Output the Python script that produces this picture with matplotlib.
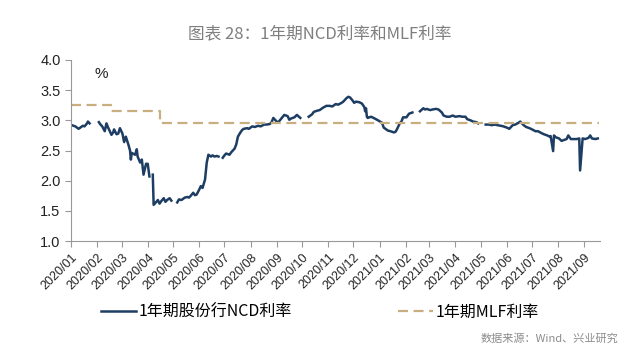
import matplotlib
matplotlib.use("Agg")
import matplotlib.pyplot as plt
import numpy as np
import pandas as pd

plt.rcParams['font.family'] = ['Liberation Sans', 'Noto Sans CJK SC', 'DejaVu Sans']

# 1年期股份行NCD利率 (nan = 节假日断点)
ncd_dates = [
    '2020-01-02', '2020-01-06', '2020-01-08', '2020-01-10', '2020-01-13', '2020-01-15',
    '2020-01-17', '2020-01-20', '2020-01-21', '2020-01-23', '2020-01-28',
    '2020-02-03', '2020-02-05', '2020-02-07', '2020-02-10', '2020-02-12', '2020-02-14',
    '2020-02-18', '2020-02-20', '2020-02-21', '2020-02-24', '2020-02-26', '2020-02-28',
    '2020-03-02', '2020-03-04', '2020-03-06', '2020-03-09', '2020-03-11', '2020-03-12',
    '2020-03-13', '2020-03-17', '2020-03-19', '2020-03-20', '2020-03-23', '2020-03-25',
    '2020-03-26', '2020-03-27', '2020-03-30', '2020-04-01', '2020-04-02', '2020-04-03',
    '2020-04-05',
    '2020-04-07', '2020-04-08', '2020-04-10', '2020-04-13', '2020-04-15', '2020-04-17',
    '2020-04-20', '2020-04-22', '2020-04-24', '2020-04-27', '2020-04-29', '2020-05-02',
    '2020-05-06', '2020-05-08', '2020-05-11', '2020-05-13', '2020-05-15', '2020-05-18',
    '2020-05-20', '2020-05-22', '2020-05-25', '2020-05-27', '2020-05-29', '2020-06-01',
    '2020-06-03', '2020-06-05', '2020-06-08', '2020-06-10', '2020-06-12', '2020-06-15',
    '2020-06-17', '2020-06-19', '2020-06-22', '2020-06-24', '2020-06-26',
    '2020-06-29', '2020-07-01', '2020-07-03', '2020-07-07', '2020-07-09', '2020-07-13',
    '2020-07-15', '2020-07-17', '2020-07-20', '2020-07-22', '2020-07-24', '2020-07-28',
    '2020-07-30', '2020-08-03', '2020-08-06', '2020-08-10', '2020-08-13', '2020-08-17',
    '2020-08-20', '2020-08-24', '2020-08-26', '2020-08-28', '2020-09-01', '2020-09-03',
    '2020-09-07', '2020-09-10', '2020-09-14', '2020-09-16', '2020-09-18', '2020-09-22',
    '2020-09-25', '2020-09-29', '2020-10-04',
    '2020-10-09', '2020-10-13', '2020-10-15', '2020-10-19', '2020-10-22', '2020-10-26',
    '2020-10-30', '2020-11-03', '2020-11-06', '2020-11-10', '2020-11-13', '2020-11-17',
    '2020-11-19', '2020-11-23', '2020-11-25', '2020-11-27', '2020-11-30', '2020-12-02',
    '2020-12-04', '2020-12-08', '2020-12-11', '2020-12-14', '2020-12-15', '2020-12-16',
    '2020-12-17', '2020-12-18', '2020-12-22', '2020-12-25', '2020-12-29',
    '2021-01-04', '2021-01-06', '2021-01-08', '2021-01-11', '2021-01-14', '2021-01-18',
    '2021-01-20', '2021-01-22', '2021-01-25', '2021-01-27', '2021-01-29', '2021-02-02',
    '2021-02-05', '2021-02-09', '2021-02-12',
    '2021-02-18', '2021-02-22', '2021-02-24', '2021-02-26', '2021-03-02', '2021-03-05',
    '2021-03-09', '2021-03-12', '2021-03-16', '2021-03-18', '2021-03-22', '2021-03-25',
    '2021-03-29', '2021-04-01', '2021-04-06', '2021-04-09', '2021-04-13', '2021-04-15',
    '2021-04-19', '2021-04-22', '2021-04-26', '2021-04-28', '2021-05-03',
    '2021-05-07', '2021-05-11', '2021-05-14', '2021-05-18', '2021-05-21', '2021-05-25',
    '2021-05-28', '2021-06-01', '2021-06-04', '2021-06-08', '2021-06-11', '2021-06-15',
    '2021-06-17', '2021-06-21', '2021-06-24', '2021-06-28', '2021-07-01', '2021-07-05',
    '2021-07-08', '2021-07-12', '2021-07-15', '2021-07-19', '2021-07-22', '2021-07-23',
    '2021-07-26', '2021-07-27', '2021-07-29', '2021-08-02', '2021-08-05', '2021-08-09',
    '2021-08-11', '2021-08-13', '2021-08-16', '2021-08-19', '2021-08-23', '2021-08-26',
    '2021-08-27', '2021-08-30', '2021-09-02', '2021-09-06', '2021-09-08', '2021-09-10',
    '2021-09-14', '2021-09-17',
]
ncd_values = [
    2.92, 2.90, 2.88, 2.86, 2.89, 2.91,
    2.90, 2.95, 2.98, 2.95, np.nan,
    2.97, 2.93, 2.90, 2.82, 2.95, 2.88,
    2.76, 2.80, 2.85, 2.77, 2.78, 2.87,
    2.78, 2.64, 2.73, 2.60, 2.50, 2.35,
    2.46, 2.43, 2.52, 2.40, 2.30, 2.35,
    2.22, 2.10, 2.28, 2.28, 2.18, 2.07,
    np.nan,
    2.10, 1.60, 1.63, 1.68, 1.62, 1.66,
    1.71, 1.65, 1.68, 1.71, 1.67, np.nan,
    1.64, 1.69, 1.68, 1.70, 1.72, 1.73,
    1.72, 1.75, 1.80, 1.76, 1.77, 1.85,
    1.91, 1.88, 2.02, 2.30, 2.43, 2.40,
    2.42, 2.40, 2.41, 2.40, np.nan,
    2.38, 2.42, 2.45, 2.43, 2.47, 2.53,
    2.60, 2.73, 2.80, 2.84, 2.86, 2.87,
    2.86, 2.90, 2.89, 2.91, 2.90, 2.93,
    2.93, 2.94, 2.97, 3.04, 2.98, 2.97,
    3.04, 3.09, 3.07, 3.01, 3.03, 3.05,
    3.09, 3.04, np.nan,
    3.06, 3.10, 3.14, 3.16, 3.17, 3.21,
    3.24, 3.24, 3.23, 3.27, 3.26, 3.29,
    3.31, 3.37, 3.39, 3.38, 3.33, 3.29,
    3.31, 3.30, 3.28, 3.22, 3.15, 3.20,
    3.06, 3.04, 3.06, 3.04, 3.01,
    2.96, 2.88, 2.86, 2.83, 2.82, 2.80,
    2.81, 2.86, 2.95, 2.98, 3.05, 3.05,
    3.11, 3.13, np.nan,
    3.15, 3.20, 3.18, 3.19, 3.17, 3.18,
    3.19, 3.18, 3.13, 3.08, 3.06, 3.06,
    3.08, 3.06, 3.07, 3.06, 3.06, 3.02,
    3.00, 2.98, 2.97, 2.95, np.nan,
    2.93, 2.93, 2.92, 2.93, 2.92, 2.91,
    2.90, 2.88, 2.86, 2.92, 2.93, 2.96,
    2.98, 2.92, 2.89, 2.87, 2.85, 2.82,
    2.82, 2.79, 2.77, 2.75, 2.73, 2.74,
    2.49, 2.75, 2.72, 2.70, 2.66, 2.68,
    2.69, 2.75, 2.69, 2.69, 2.69, 2.70,
    2.17, 2.70, 2.69, 2.71, 2.75, 2.70,
    2.69, 2.70,
]

# 1年期MLF利率
mlf_dates = ['2020-01-01', '2020-02-17', '2020-04-15', '2021-09-18']
mlf_values = [3.25, 3.15, 2.95, 2.95]

month_ticks = pd.date_range('2020-01-01', '2021-09-01', freq='MS')
tick_labels = [d.strftime('%Y/%m') for d in month_ticks]
y_ticks = [1.0, 1.5, 2.0, 2.5, 3.0, 3.5, 4.0]

ncd_color = '#1d3d63'
mlf_color = '#c9ae80'
grey = '#8c8c8c'
cjk = ['Noto Sans CJK SC', 'DejaVu Sans']

fig = plt.figure(figsize=(6.4, 3.55), dpi=100)
ax = fig.add_axes([0.111, 0.321, 0.827, 0.51])

ax.plot(pd.to_datetime(ncd_dates), ncd_values, color=ncd_color, lw=1.8,
        label='1年期股份行NCD利率')
ax.plot(pd.to_datetime(mlf_dates), mlf_values, color=mlf_color, lw=1.6,
        dashes=(4.5, 2.5), drawstyle='steps-post', label='1年期MLF利率')

ax.set_xlim(pd.Timestamp('2020-01-01'), pd.Timestamp('2021-09-20'))
ax.set_ylim(1.0, 4.0)
ax.set_yticks(y_ticks)
ax.set_yticklabels([f'{v:.1f}' for v in y_ticks], fontsize=10.5)
ax.set_xticks(month_ticks)
ax.set_xticklabels(tick_labels, rotation=45, ha='right', rotation_mode='anchor',
                   fontsize=9)

for s in ['top', 'right']:
    ax.spines[s].set_visible(False)
for s in ['left', 'bottom']:
    ax.spines[s].set_color('#999999')
    ax.spines[s].set_linewidth(0.8)
ax.tick_params(axis='both', colors='#999999', labelcolor='#222222',
               length=4, width=0.8)

ax.text(0.045, 0.9, '%', transform=ax.transAxes, fontsize=11, color='#222222')

fig.text(0.5, 0.905, '图表 28：1年期NCD利率和MLF利率', ha='center', va='center',
         fontsize=12, color='#7f7f7f', family=cjk, weight='medium')

fig.legend(loc='center', bbox_to_anchor=(0.5, 0.12), ncol=2, frameon=False,
           columnspacing=6.6, handlelength=2.2, handletextpad=0.2,
           prop={'family': cjk, 'size': 11.5, 'weight': 'medium'})

fig.text(0.966, 0.045, '数据来源：Wind、兴业研究', ha='right', va='center',
         fontsize=8, color=grey, family=cjk)

fig.savefig('out.png', dpi=100)
